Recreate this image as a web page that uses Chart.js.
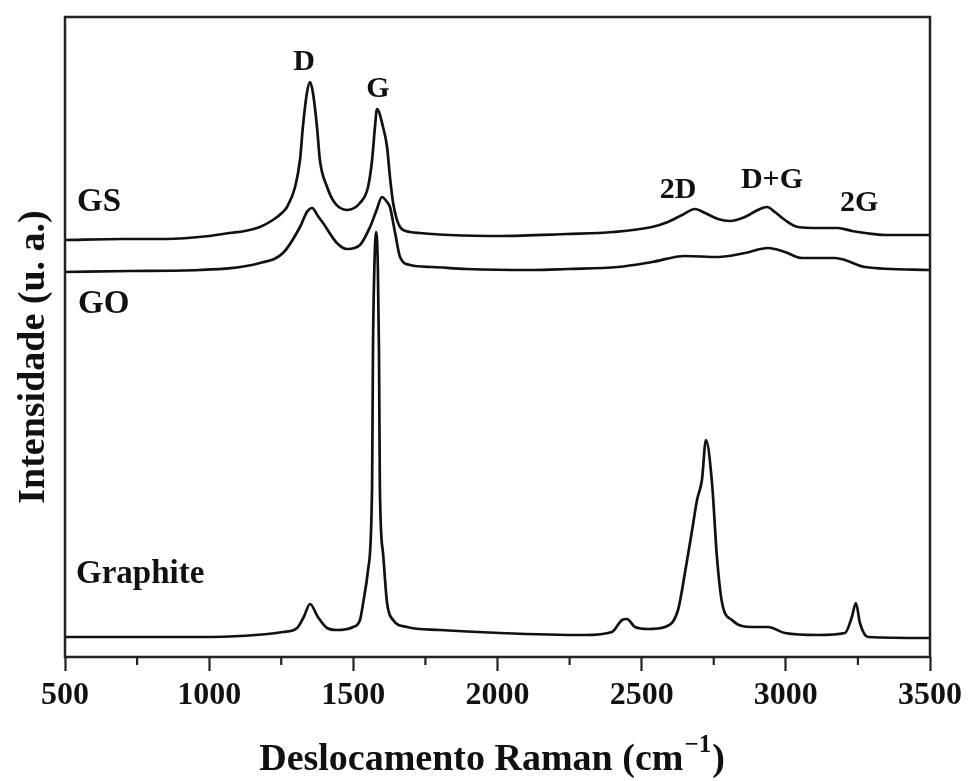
<!DOCTYPE html>
<html lang="pt">
<head>
<meta charset="utf-8">
<title>Espectros Raman</title>
<script src="https://cdn.jsdelivr.net/npm/chart.js@4.4.1/dist/chart.umd.min.js"></script>
<style>
  html, body { margin: 0; padding: 0; background: #fff; }
  #wrap { width: 970px; height: 781px; position: relative; }
</style>
</head>
<body>
<div id="wrap"><canvas id="ramanChart"></canvas></div>
<script>
// Raman shift in cm-1, intensity in arbitrary units (spectra stacked with an offset)
const gsShift = [500, 700, 850, 1000, 1070, 1124, 1176, 1221, 1256, 1270, 1298, 1315, 1325, 1339, 1350, 1360, 1374, 1384, 1409, 1436, 1478, 1523, 1551, 1565, 1575, 1582, 1603, 1617, 1627, 1638, 1662, 1697, 1731, 1835, 2009, 2241, 2401, 2536, 2591, 2640, 2685, 2720, 2765, 2806, 2858, 2903, 2935, 2962, 2997, 3042, 3112, 3181, 3229, 3275, 3344, 3500];
const gsIntensity = [417, 418, 418, 421, 424, 426, 430, 437, 445, 450, 470, 497, 530, 564, 575, 564, 530, 497, 470, 454, 447, 454, 470, 497, 530, 548, 530, 510, 480, 454, 430, 425, 424, 422, 421, 423, 425, 430, 435, 442, 448, 444, 438, 436, 440, 447, 450, 445, 437, 430, 429, 429, 426, 424, 422, 422];

const goShift = [500, 725, 968, 1176, 1256, 1315, 1339, 1357, 1377, 1395, 1443, 1478, 1523, 1558, 1582, 1599, 1617, 1627, 1645, 1662, 1697, 1776, 1894, 2123, 2241, 2418, 2536, 2650, 2765, 2858, 2938, 2997, 3056, 3171, 3205, 3275, 3500];
const goIntensity = [385, 386, 387, 394, 404, 430, 445, 449, 441, 434, 414, 408, 412, 430, 448, 460, 455, 450, 424, 400, 392, 390, 388, 387, 388, 390, 395, 401, 400, 404, 409, 405, 399, 399, 397, 390, 387];

const graphiteShift = [500, 829, 968, 1256, 1305, 1328, 1350, 1377, 1409, 1443, 1499, 1523, 1534, 1551, 1565, 1568, 1573, 1579, 1585, 1589, 1592, 1603, 1617, 1638, 1686, 1801, 2009, 2303, 2397, 2432, 2449, 2477, 2522, 2581, 2626, 2650, 2675, 2692, 2709, 2723, 2744, 2761, 2779, 2813, 2883, 2938, 2997, 3112, 3205, 3229, 3243, 3257, 3285, 3500];
const graphiteIntensity = [20, 20, 20, 25, 29, 40, 53, 40, 29, 27, 30, 37, 54, 87, 170, 304, 390, 425, 390, 304, 170, 104, 54, 37, 30, 27, 24, 22, 25, 37, 38, 30, 28, 30, 47, 84, 127, 157, 177, 217, 174, 100, 54, 37, 30, 30, 24, 22, 24, 40, 54, 34, 20, 19];

// band names written above the peaks
const peakNames = ['D', 'G', '2D', 'D+G', '2G'];
const peakShift = [1329, 1585, 2626, 2952, 3254];
const peakHeight = [587, 560, 459, 469, 446];

// sample names at the left of each spectrum
const sampleNames = ['GS', 'GO', 'Graphite'];
const sampleShift = [542, 545, 538];
const sampleHeight = [446, 344, 74];

const xMin = 500;
const xMax = 3500;
const majorStep = 500;
const minorStep = 250;

const serif = '"Liberation Serif", "Times New Roman", serif';
const ink = '#111';
const frameColor = '#222';

const toPoints = (xs, ys) => xs.map((x, i) => ({ x: x, y: ys[i] }));

const spectrum = (label, xs, ys) => ({
    label: label,
    data: toPoints(xs, ys),
    borderColor: ink,
    borderWidth: 2.7,
    pointRadius: 0,
    fill: false,
    cubicInterpolationMode: 'monotone'
});

// frame, minor ticks, axis titles and text annotations
const decorations = {
    id: 'decorations',
    afterDraw(chart) {
        const { ctx, chartArea: area, scales } = chart;
        const xs = scales.x;
        const ys = scales.y;

        ctx.save();
        ctx.strokeStyle = frameColor;
        ctx.lineWidth = 2.5;
        ctx.strokeRect(area.left, area.top, area.right - area.left, area.bottom - area.top);

        // minor ticks between the labelled ones
        ctx.lineWidth = 2.2;
        for (let v = xMin + minorStep; v < xMax; v += majorStep) {
            const px = xs.getPixelForValue(v);
            ctx.beginPath();
            ctx.moveTo(px, area.bottom);
            ctx.lineTo(px, area.bottom + 8);
            ctx.stroke();
        }

        ctx.fillStyle = ink;
        ctx.textBaseline = 'alphabetic';

        ctx.font = 'bold 30px ' + serif;
        ctx.textAlign = 'center';
        peakNames.forEach((name, i) => {
            ctx.fillText(name, xs.getPixelForValue(peakShift[i]), ys.getPixelForValue(peakHeight[i]));
        });

        ctx.font = 'bold 33px ' + serif;
        ctx.textAlign = 'left';
        sampleNames.forEach((name, i) => {
            ctx.fillText(name, xs.getPixelForValue(sampleShift[i]), ys.getPixelForValue(sampleHeight[i]));
        });

        // x title with a raised exponent
        const main = 'Deslocamento Raman (cm';
        const sup = '\u22121';
        const close = ')';
        ctx.font = 'bold 38px ' + serif;
        const wMain = ctx.measureText(main).width;
        const wClose = ctx.measureText(close).width;
        ctx.font = 'bold 25px ' + serif;
        const wSup = ctx.measureText(sup).width;
        let tx = 491 - (wMain + wSup + wClose) / 2;
        const baseY = 770;
        ctx.font = 'bold 38px ' + serif;
        ctx.fillText(main, tx, baseY);
        tx += wMain;
        ctx.font = 'bold 25px ' + serif;
        ctx.fillText(sup, tx + 1, baseY - 18);
        tx += wSup + 2;
        ctx.font = 'bold 38px ' + serif;
        ctx.fillText(close, tx, baseY);

        // y title
        ctx.translate(34, 357);
        ctx.rotate(-Math.PI / 2);
        ctx.textAlign = 'center';
        ctx.textBaseline = 'middle';
        ctx.fillText('Intensidade (u. a.)', 0, 0);
        ctx.restore();
    }
};

const ctx = document.getElementById('ramanChart').getContext('2d');
new Chart(ctx, {
    type: 'line',
    data: {
        datasets: [
            spectrum('GS', gsShift, gsIntensity),
            spectrum('GO', goShift, goIntensity),
            spectrum('Graphite', graphiteShift, graphiteIntensity)
        ]
    },
    options: {
        responsive: true,
        maintainAspectRatio: false,
        devicePixelRatio: 1,
        animation: false,
        events: [],
        layout: { padding: { top: 17, right: 40, left: 0, bottom: 0 } },
        scales: {
            x: {
                type: 'linear',
                min: xMin,
                max: xMax,
                ticks: {
                    stepSize: majorStep,
                    color: ink,
                    padding: 6,
                    maxRotation: 0,
                    font: { family: serif, size: 32, weight: 'bold' },
                    callback: (value) => String(value)
                },
                grid: {
                    drawOnChartArea: false,
                    drawTicks: true,
                    tickLength: 14,
                    tickWidth: 2.2,
                    tickColor: frameColor
                },
                border: { display: false },
                afterFit(scale) { scale.height = 124; }
            },
            y: {
                type: 'linear',
                min: 0,
                max: 640,
                ticks: { display: false },
                grid: { display: false },
                border: { display: false },
                afterFit(scale) { scale.width = 65; }
            }
        },
        plugins: {
            legend: { display: false },
            tooltip: { enabled: false }
        }
    },
    plugins: [decorations]
});
</script>
</body>
</html>
